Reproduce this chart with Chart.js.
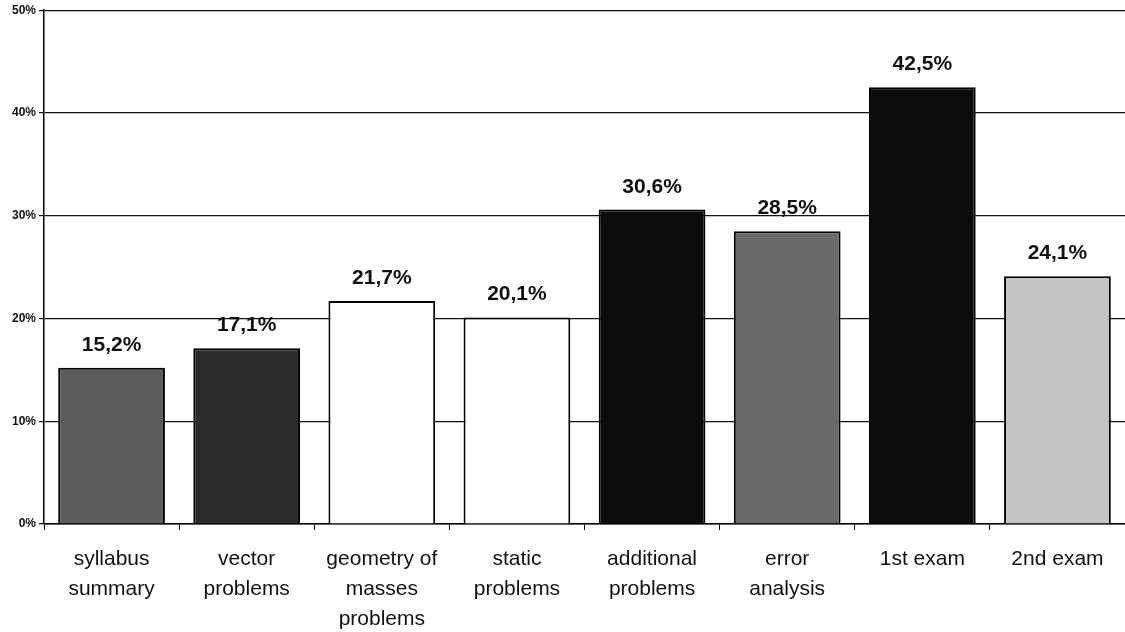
<!DOCTYPE html>
<html>
<head>
<meta charset="utf-8">
<script src="https://cdn.jsdelivr.net/npm/chart.js@4"></script>
<style>
  html, body { margin: 0; padding: 0; background: #fff; overflow: hidden; }
</style>
</head>
<body>
<canvas id="chart" width="1125" height="632"></canvas>
<script>
var categories = [
    ['syllabus', 'summary'],
    ['vector', 'problems'],
    ['geometry of', 'masses', 'problems'],
    ['static', 'problems'],
    ['additional', 'problems'],
    ['error', 'analysis'],
    ['1st exam'],
    ['2nd exam']
];
var values = [15.2, 17.1, 21.7, 20.1, 30.6, 28.5, 42.5, 24.1];
var barColors = ['#5c5c5c', '#2c2c2c', '#ffffff', '#ffffff', '#0c0c0c', '#6a6a6a', '#0c0c0c', '#c4c4c4'];
var yTicks = [0, 10, 20, 30, 40, 50];

// draws the value above each bar, with a decimal comma
var valueLabels = {
    id: 'valueLabels',
    afterDatasetsDraw: function(chart) {
        var ctx = chart.ctx;
        var meta = chart.getDatasetMeta(0);
        ctx.save();
        ctx.font = 'bold 21px "Liberation Sans", Arial, sans-serif';
        ctx.fillStyle = '#111';
        ctx.textAlign = 'center';
        ctx.textBaseline = 'alphabetic';
        meta.data.forEach(function(bar, i) {
            var txt = values[i].toFixed(1).replace('.', ',') + '%';
            ctx.fillText(txt, bar.x, bar.y - 17);
        });
        ctx.restore();
    }
};

new Chart(document.getElementById('chart').getContext('2d'), {
    type: 'bar',
    data: {
        labels: categories,
        datasets: [{
            data: values,
            backgroundColor: barColors,
            borderColor: '#000',
            borderWidth: 2,
            barPercentage: 0.79,
            categoryPercentage: 1
        }]
    },
    options: {
        responsive: false,
        animation: false,
        layout: { padding: { top: 10, right: 0, left: 0, bottom: 0 } },
        plugins: {
            legend: { display: false },
            tooltip: { enabled: false }
        },
        scales: {
            y: {
                min: 0,
                max: 50,
                afterBuildTicks: function(scale) {
                    scale.ticks = yTicks.map(function(v) { return { value: v }; });
                },
                afterFit: function(scale) { scale.width = 44; },
                grid: {
                    color: '#111',
                    lineWidth: 1.2,
                    tickLength: 5
                },
                border: { color: '#000', width: 1.5 },
                ticks: {
                    color: '#111',
                    padding: 3,
                    font: { family: '"Liberation Sans", Arial, sans-serif', size: 12, weight: 'bold' },
                    callback: function(v) { return v + '%'; }
                }
            },
            x: {
                afterFit: function(scale) { scale.height = 108; },
                grid: {
                    offset: true,
                    drawOnChartArea: false,
                    color: '#000',
                    tickLength: 6
                },
                border: { color: '#000', width: 1.5 },
                ticks: {
                    color: '#111',
                    padding: 14,
                    maxRotation: 0,
                    autoSkip: false,
                    font: { family: '"Liberation Sans", Arial, sans-serif', size: 21, lineHeight: 1.43 }
                }
            }
        }
    },
    plugins: [valueLabels]
});
</script>
</body>
</html>
